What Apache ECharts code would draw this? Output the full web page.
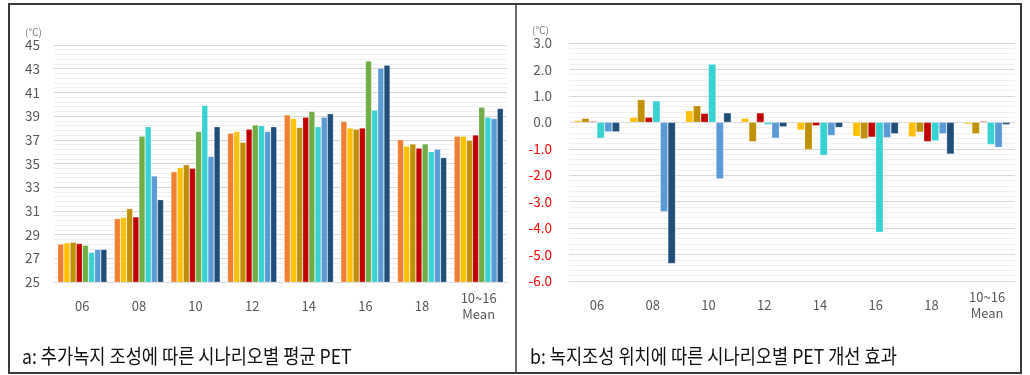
<!DOCTYPE html>
<html>
<head>
<meta charset="utf-8">
<script src="https://cdn.jsdelivr.net/npm/echarts@6/dist/echarts.min.js"></script>
<style>
  html, body { margin: 0; padding: 0; background: #fff; }
  #chart { width: 1030px; height: 375px; }
</style>
</head>
<body>
<div id="chart"></div>
<script>
// Time-of-day categories (hour) plus the 10~16 mean
const categories = ['06', '08', '10', '12', '14', '16', '18', '10~16\nMean'];

// Left panel: mean PET (℃) per scenario
const petS1 = [28.2, 30.35, 34.3, 37.55, 39.1, 38.55, 37.0, 37.3];
const petS2 = [28.3, 30.45, 34.65, 37.7, 38.8, 38.0, 36.45, 37.3];
const petS3 = [28.35, 31.2, 34.9, 36.8, 38.05, 37.9, 36.65, 36.95];
const petS4 = [28.25, 30.5, 34.6, 37.9, 38.9, 38.0, 36.3, 37.4];
const petS5 = [28.1, 37.3, 37.7, 38.25, 39.4, 43.65, 36.65, 39.75];
const petS6 = [27.5, 38.1, 39.9, 38.2, 38.1, 39.5, 36.0, 38.9];
const petS7 = [27.75, 33.95, 35.6, 37.7, 38.9, 43.05, 36.2, 38.8];
const petS8 = [27.75, 31.95, 38.1, 38.1, 39.2, 43.3, 35.5, 39.65];

// Right panel: PET improvement (℃) per greening location
const effS2 = [0.07, 0.19, 0.44, 0.15, -0.29, -0.53, -0.55, -0.07];
const effS3 = [0.15, 0.86, 0.63, -0.73, -1.03, -0.62, -0.37, -0.43];
const effS4 = [0.04, 0.19, 0.34, 0.36, -0.13, -0.56, -0.73, 0.04];
const effS6 = [-0.6, 0.81, 2.2, -0.09, -1.25, -4.16, -0.7, -0.84];
const effS7 = [-0.36, -3.38, -2.14, -0.6, -0.5, -0.58, -0.43, -0.95];
const effS8 = [-0.36, -5.34, 0.36, -0.17, -0.19, -0.43, -1.2, -0.09];

const leftTicks = { min: 25, max: 45, step: 2 };
const rightTicks = { min: -6, max: 3, step: 1 };

const colors = {
  s1: '#F07F32', s2: '#FFC000', s3: '#BF9000', s4: '#C00000',
  s5: '#70AD47', s6: '#38D2D2', s7: '#5B9BD5', s8: '#1F4E79'
};

const FONT = '"Noto Sans CJK KR", "Noto Sans", sans-serif';
const gridLine = '#D9D9D9';
const minorLine = '#F1F1F1';

function bar(name, data, color, axisIdx) {
  return {
    name: name,
    type: 'bar',
    xAxisIndex: axisIdx,
    yAxisIndex: axisIdx,
    data: data,
    barGap: '0%',
    barCategoryGap: axisIdx === 0 ? '13%' : '18%',
    itemStyle: { color: color, borderColor: 'rgba(255,255,255,0.4)', borderWidth: 0.6 },
    animation: false
  };
}

const xAxisCommon = {
  type: 'category',
  data: categories,
  axisTick: { show: false },
  axisLine: { show: true, onZero: false, lineStyle: { color: gridLine } },
  axisLabel: {
    color: '#595959', fontFamily: FONT, fontSize: 13,
    margin: 24, verticalAlign: 'middle', lineHeight: 16, interval: 0
  }
};

function yAxisCommon(t, neg) {
  return {
    type: 'value',
    min: t.min, max: t.max, interval: t.step,
    axisLine: { show: false },
    axisTick: { show: false },
    splitLine: { show: true, lineStyle: { color: gridLine, width: 1 } },
    minorTick: { show: false, splitNumber: 5 },
    minorSplitLine: { show: true, lineStyle: { color: minorLine, width: 1 } },
    axisLabel: {
      fontFamily: FONT, fontSize: 13.5,
      margin: neg ? 17 : 14,
      color: neg ? function (v) { return Number(v) < 0 ? '#FF0000' : '#595959'; } : '#595959',
      formatter: neg ? function (v) { return Number(v).toFixed(1); } : '{value}'
    }
  };
}

const chart = echarts.init(document.getElementById('chart'), null, { renderer: 'canvas' });

chart.setOption({
  animation: false,
  backgroundColor: '#ffffff',
  grid: [
    { left: 54, top: 45, width: 453, height: 237 },
    { left: 569, top: 43, width: 446, height: 238 }
  ],
  xAxis: [
    Object.assign({ gridIndex: 0 }, xAxisCommon),
    Object.assign({ gridIndex: 1 }, xAxisCommon)
  ],
  yAxis: [
    Object.assign({ gridIndex: 0 }, yAxisCommon(leftTicks, false)),
    Object.assign({ gridIndex: 1 }, yAxisCommon(rightTicks, true))
  ],
  series: [
    bar('S1', petS1, colors.s1, 0),
    bar('S2', petS2, colors.s2, 0),
    bar('S3', petS3, colors.s3, 0),
    bar('S4', petS4, colors.s4, 0),
    bar('S5', petS5, colors.s5, 0),
    bar('S6', petS6, colors.s6, 0),
    bar('S7', petS7, colors.s7, 0),
    bar('S8', petS8, colors.s8, 0),
    bar('S2', effS2, colors.s2, 1),
    bar('S3', effS3, colors.s3, 1),
    bar('S4', effS4, colors.s4, 1),
    bar('S6', effS6, colors.s6, 1),
    bar('S7', effS7, colors.s7, 1),
    bar('S8', effS8, colors.s8, 1)
  ],
  graphic: [
    // frame and panel divider
    { type: 'rect', shape: { x: 9, y: 4, width: 1012, height: 369 },
      style: { fill: 'none', stroke: '#3A3A3A', lineWidth: 2 }, silent: true },
    { type: 'line', shape: { x1: 516, y1: 4, x2: 516, y2: 373 },
      style: { stroke: '#3A3A3A', lineWidth: 1.5 }, silent: true },
    // unit labels
    { type: 'text', x: 25, y: 27,
      style: { text: '(℃)', fill: '#7F7F7F', font: '10px ' + FONT } },
    { type: 'text', x: 532, y: 25,
      style: { text: '(℃)', fill: '#7F7F7F', font: '10px ' + FONT } },
    // panel captions (condensed)
    { type: 'text', x: 22, y: 356, scaleX: 0.88,
      style: { text: 'a: 추가녹지 조성에 따른 시나리오별 평균 PET', fill: '#111',
               font: '20px ' + FONT, verticalAlign: 'middle' } },
    { type: 'text', x: 530, y: 356, scaleX: 0.88,
      style: { text: 'b: 녹지조성 위치에 따른 시나리오별 PET 개선 효과', fill: '#111',
               font: '20px ' + FONT, verticalAlign: 'middle' } }
  ]
});
</script>
</body>
</html>
